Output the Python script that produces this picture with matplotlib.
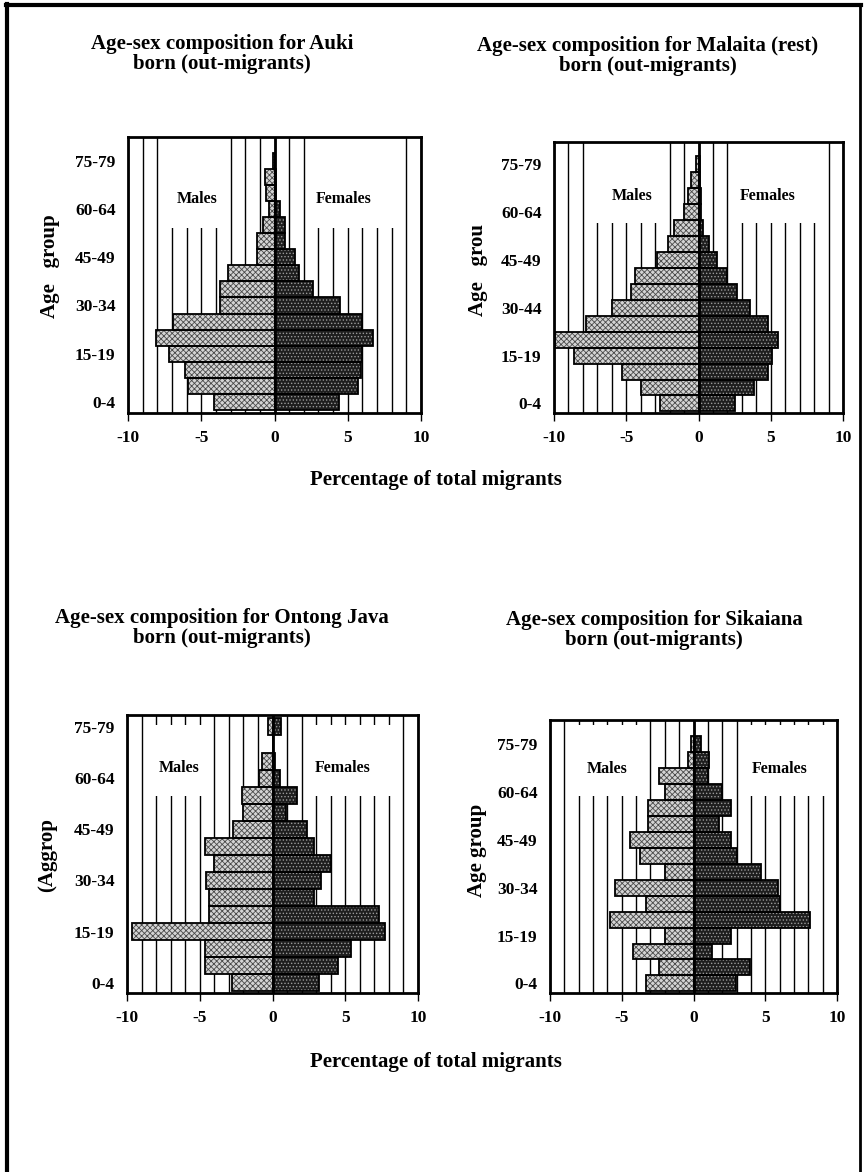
import matplotlib.pyplot as plt
from matplotlib.lines import Line2D
from matplotlib.patches import Rectangle
import matplotlib.transforms as mtransforms
import numpy as np

plt.rcParams['font.family'] = ['Liberation Serif', 'DejaVu Serif']
plt.rcParams['font.weight'] = 'bold'
plt.rcParams['hatch.linewidth'] = 0.6

# ---- data (percent of total migrants) ----
age_groups = ['0-4', '5-9', '10-14', '15-19', '20-24', '25-29', '30-34', '35-39',
              '40-44', '45-49', '50-54', '55-59', '60-64', '65-69', '70-74', '75-79']

titles = ['Age-sex composition for Auki\nborn (out-migrants)',
          'Age-sex composition for Malaita (rest)\nborn (out-migrants)',
          'Age-sex composition for Ontong Java\nborn (out-migrants)',
          'Age-sex composition for Sikaiana\nborn (out-migrants)']
ylabels = ['Age   group', 'Age   grou', '(Aggrop', 'Age group']
ytick_text = [['0-4', '15-19', '30-34', '45-49', '60-64', '75-79'],
              ['0-4', '15-19', '30-44', '45-49', '60-64', '75-79'],
              ['0-4', '15-19', '30-34', '45-49', '60-64', '75-79'],
              ['0-4', '15-19', '30-34', '45-49', '60-64', '75-79']]
xtick_values = [-10, -5, 0, 5, 10]
xtick_text = ['-10', '-5', '0', '5', '10']

auki_males = [4.1, 5.9, 6.1, 7.2, 8.1, 6.9, 3.7, 3.7, 3.2, 1.2, 1.2, 0.8, 0.35, 0.6, 0.65, 0.1]
auki_females = [4.4, 5.7, 5.9, 6.0, 6.7, 6.0, 4.5, 2.6, 1.7, 1.4, 0.75, 0.75, 0.35, 0.1, 0.1, 0.05]

malaita_males = [2.65, 4.0, 5.3, 8.6, 9.9, 7.8, 6.0, 4.7, 4.4, 2.9, 2.1, 1.7, 1.0, 0.75, 0.5, 0.2]
malaita_females = [2.55, 3.85, 4.8, 5.1, 5.5, 4.8, 3.55, 2.65, 2.0, 1.3, 0.7, 0.3, 0.2, 0.15, 0.1, 0.07]

ontong_males = [2.8, 4.65, 4.65, 9.65, 4.35, 4.35, 4.55, 4.0, 4.65, 2.7, 2.05, 2.1, 0.9, 0.7, 0.0, 0.3]
ontong_females = [3.2, 4.5, 5.4, 7.7, 7.3, 2.85, 3.3, 4.0, 2.85, 2.4, 0.9, 1.65, 0.5, 0.2, 0.05, 0.6]

sikaiana_males = [3.3, 2.4, 4.2, 2.0, 5.85, 3.3, 5.45, 2.0, 3.7, 4.45, 3.2, 3.2, 2.0, 2.4, 0.35, 0.15]
sikaiana_females = [2.95, 3.95, 1.3, 2.6, 8.1, 6.0, 5.9, 4.7, 3.0, 2.6, 1.75, 2.6, 2.0, 1.0, 1.05, 0.5]

males = [auki_males, malaita_males, ontong_males, sikaiana_males]
females = [auki_females, malaita_females, ontong_females, sikaiana_females]

# ---- layout (figure pixels) ----
W, H = 865, 1172
axes_px = [(128, 137, 421, 413), (554, 142, 843, 413),
           (127, 715, 418, 993), (550, 720, 837, 993)]
ylims = [(-0.7, 16.5), (-0.6, 16.4), (-0.6, 15.7), (-0.6, 16.5)]
# white boxes behind the Males / Females labels: (x0, x1) in data, y in axes fraction
boxes = [([(-7.4, -3.6), (2.5, 8.5)], (0.67, 1.0)),
         ([(-7.4, -2.6), (2.6, 8.4)], (0.70, 1.0)),
         ([(-8.5, -4.5), (2.5, 8.5)], (0.71, 0.965)),
         ([(-8.5, -3.5), (3.5, 9.5)], (0.72, 0.98))]
label_pos = [((-5.3, 4.7), 0.776), ((-4.6, 4.8), 0.80),
             ((-6.4, 4.8), 0.81), ((-6.0, 6.0), 0.82)]
title_pos = [(222, 54), (648, 56), (222, 628), (654, 630)]
ylabel_pos = [(50, 266), (478, 270), (47, 855), (477, 850)]
xlabel_pos = [(436, 480), (436, 1062)]

fig = plt.figure(figsize=(W / 100, H / 100), dpi=100)
fig.patch.set_facecolor('white')

y = np.arange(len(age_groups))

for i in range(4):
    x0, y0, x1, y1 = axes_px[i]
    ax = fig.add_axes([x0 / W, 1 - y1 / H, (x1 - x0) / W, (y1 - y0) / H])
    ax.set_xlim(-10, 10)
    ax.set_ylim(*ylims[i])

    # vertical rules every 1 %
    ax.set_xticks(xtick_values)
    ax.set_xticklabels(xtick_text, fontsize=12.5)
    ax.set_xticks(np.arange(-10, 11, 1), minor=True)
    ax.grid(which='both', axis='x', color='black', lw=1.0)
    ax.set_axisbelow(True)
    ax.tick_params(axis='x', which='major', length=6, width=1, direction='out', pad=6)
    ax.tick_params(axis='x', which='minor', length=0)

    ax.set_yticks(y[::3])
    ax.set_yticklabels(ytick_text[i], fontsize=12.5)
    ax.tick_params(axis='y', length=0, pad=9)

    for sp in ax.spines.values():
        sp.set_linewidth(2)

    trans = mtransforms.blended_transform_factory(ax.transData, ax.transAxes)
    (xs, ys) = boxes[i]
    for bx0, bx1 in xs:
        ax.add_patch(Rectangle((bx0, ys[0]), bx1 - bx0, ys[1] - ys[0], transform=trans,
                               facecolor='white', edgecolor='none', zorder=1))

    m = -np.array(males[i])
    f = np.array(females[i])
    # males: light grey cross-hatch
    ax.barh(y, m, height=1.0, color='#d4d4d4', edgecolor='#4a4a4a', hatch='xxxxxx',
            lw=0, zorder=2)
    ax.barh(y, m, height=1.0, fill=False, edgecolor='black', lw=1.3, zorder=3)
    # females: dark stipple
    ax.barh(y, f, height=1.0, color='#1e1e1e', edgecolor='#9a9a9a', hatch='.....',
            lw=0, zorder=2)
    ax.barh(y, f, height=1.0, fill=False, edgecolor='black', lw=1.3, zorder=3)
    ax.axvline(0, color='black', lw=2, zorder=4)

    (mx, fx), ly = label_pos[i]
    ax.text(mx, ly, 'Males', transform=trans, ha='center', va='center',
            fontsize=11.5, zorder=5)
    ax.text(fx, ly, 'Females', transform=trans, ha='center', va='center',
            fontsize=11.5, zorder=5)

    tx, ty = title_pos[i]
    fig.text(tx / W, 1 - ty / H, titles[i], ha='center', va='center',
             fontsize=15, linespacing=1.05)
    lx, lyy = ylabel_pos[i]
    fig.text(lx / W, 1 - lyy / H, ylabels[i], rotation=90, ha='center', va='center',
             fontsize=15)

for px, py in xlabel_pos:
    fig.text(px / W, 1 - py / H, 'Percentage of total migrants', ha='center',
             va='center', fontsize=15)

# page border (left, top, right)
fig.add_artist(Line2D([7 / W, 7 / W], [0, 1 - 4 / H], color='black', lw=3,
                      transform=fig.transFigure))
fig.add_artist(Line2D([6 / W, 861 / W], [1 - 5 / H, 1 - 5 / H], color='black', lw=3,
                      transform=fig.transFigure))
fig.add_artist(Line2D([860 / W, 860 / W], [1 - 4 / H, 0], color='black', lw=2,
                      transform=fig.transFigure))

fig.savefig('out.png', dpi=100, facecolor='white')
